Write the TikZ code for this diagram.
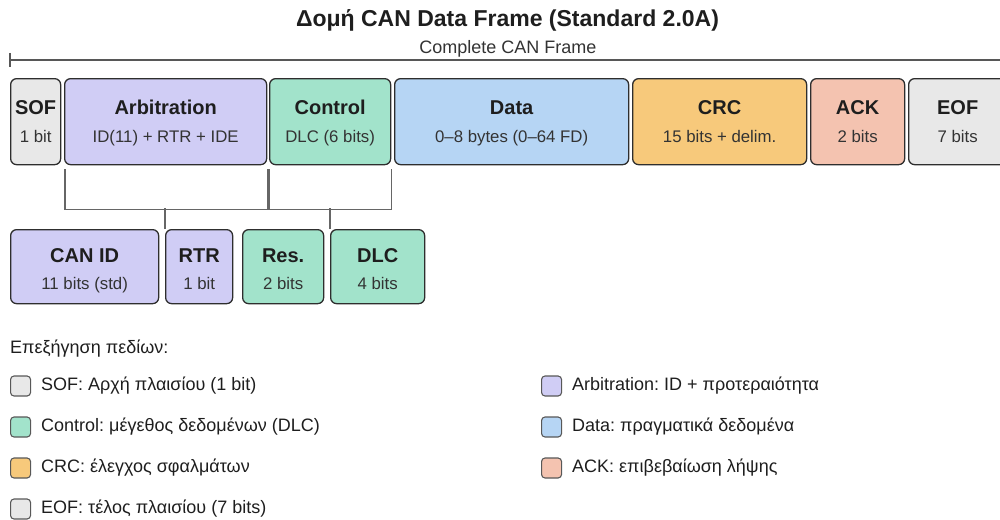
\documentclass[tikz,border=0pt]{standalone}
\usepackage{fontspec}
\setmainfont{Liberation Sans}
\usetikzlibrary{calc}
\frenchspacing
\definecolor{cgrey}{HTML}{E8E8E8}
\definecolor{cpurp}{HTML}{D0CDF5}
\definecolor{cmint}{HTML}{A2E3CB}
\definecolor{cblue}{HTML}{B6D5F4}
\definecolor{corng}{HTML}{F7C97B}
\definecolor{csalm}{HTML}{F4C3B0}
\definecolor{cedge}{HTML}{2E2E2E}
\definecolor{cline}{HTML}{666666}
\definecolor{ctxt}{HTML}{1E1E1E}
\definecolor{csub}{HTML}{333333}
% main field label: title + sub line, gap 28
\newcommand{\fldA}[2]{\rule{0pt}{18pt}{\fontsize{20}{28}\selectfont\bfseries #1}\\{\fontsize{16.8}{28}\selectfont\color{csub}#2}\rule[-4pt]{0pt}{4pt}}
% sub field label: gap 27
\newcommand{\fldB}[2]{\rule{0pt}{23pt}{\fontsize{20}{27}\selectfont\bfseries #1}\\{\fontsize{16.8}{27}\selectfont\color{csub}#2}\rule[-4pt]{0pt}{4pt}}
\tikzset{
  fieldbox/.style={draw=cedge, line width=1.3pt, rounded corners=6pt, anchor=north west,
    align=center, inner sep=0pt, text=ctxt},
  mainbox/.style={fieldbox, minimum height=86pt, font=\fontsize{16.8}{28}\selectfont},
  subbox/.style={fieldbox, minimum height=74pt, font=\fontsize{16.8}{27}\selectfont},
  brk/.style={draw=cline, line width=1.4pt},
  frameline/.style={draw=cline!85!black, line width=1.3pt},
  swatch/.style={draw=cedge!80, line width=1.1pt, rounded corners=3.5pt, minimum width=20pt,
    minimum height=20pt, inner sep=0pt, anchor=west},
  legtext/.style={anchor=west, inner sep=0pt, text=ctxt, font=\fontsize{18}{21}\selectfont},
}
\begin{document}
\begin{tikzpicture}[x=1pt,y=-1pt]
\useasboundingbox (0,0) rectangle (1000,519);
% title
\node[anchor=base, inner sep=0pt, text=ctxt, font=\fontsize{23}{26}\selectfont\bfseries] (title) at (507.5,26.3) {Δομή CAN Data Frame (Standard 2.0A)};
\node[anchor=base, inner sep=0pt, text=csub, font=\fontsize{18}{21}\selectfont] (cframe) at (508,53.3) {Complete CAN Frame};
\coordinate (fl) at (10,60);
\coordinate (fr) at (1012,60);
\draw[frameline] (fl) -- (fr);
\draw[frameline] ($(fl)+(0,-7)$) -- ($(fl)+(0,7)$);
% main fields
\node[mainbox, fill=cgrey, minimum width=50pt] (sof) at (10,78) {\fldA{SOF}{1 bit}};
\node[mainbox, fill=cpurp, minimum width=202pt] (arb) at (64,78) {\fldA{Arbitration}{ID(11) + RTR + IDE}};
\node[mainbox, fill=cmint, minimum width=121pt] (ctl) at (269,78) {\fldA{Control}{DLC (6 bits)}};
\node[mainbox, fill=cblue, minimum width=234pt] (data) at (394,78) {\fldA{Data}{0–8 bytes (0–64 FD)}};
\node[mainbox, fill=corng, minimum width=174pt] (crc) at (632,78) {\fldA{CRC}{15 bits + delim.}};
\node[mainbox, fill=csalm, minimum width=94pt] (ack) at (810,78) {\fldA{ACK}{2 bits}};
\node[mainbox, fill=cgrey, minimum width=98pt] (eof) at (908,78) {\fldA{EOF}{7 bits}};
% sub fields
\node[subbox, fill=cpurp, minimum width=148pt] (canid) at (10,229) {\fldB{CAN ID}{11 bits (std)}};
\node[subbox, fill=cpurp, minimum width=67pt] (rtr) at (165,229) {\fldB{RTR}{1 bit}};
\node[subbox, fill=cmint, minimum width=81pt] (res) at (242,229) {\fldB{Res.}{2 bits}};
\node[subbox, fill=cmint, minimum width=94pt] (dlc) at (330,229) {\fldB{DLC}{4 bits}};
% brackets
\draw[brk] ($(arb.south west)+(1,4)$) |- ($(arb.south east)+(0,44)$) -- ($(arb.south east)+(0,4)$);
\draw[brk] (rtr.north west) -- ++(0,-21);
\draw[brk] ($(ctl.south west)+(0,4)$) |- ($(ctl.south east)+(0,44)$) -- ($(ctl.south east)+(0,4)$);
\draw[brk] (dlc.north west) -- ++(0,-21);
% legend
\node[legtext] (leghead) at (10,349) {Επεξήγηση πεδίων:};
\node[swatch, fill=cgrey] (s1) at (10,386) {};
\node[legtext] (t1) at (41,386) {SOF: Αρχή πλαισίου (1 bit)};
\node[swatch, fill=cmint] (s2) at (10,427) {};
\node[legtext] (t2) at (41,427) {Control: μέγεθος δεδομένων (DLC)};
\node[swatch, fill=corng] (s3) at (10,468) {};
\node[legtext] (t3) at (41,468) {CRC: έλεγχος σφαλμάτων};
\node[swatch, fill=cgrey] (s4) at (10,509) {};
\node[legtext] (t4) at (41,509) {EOF: τέλος πλαισίου (7 bits)};
\node[swatch, fill=cpurp] (s5) at (541,386) {};
\node[legtext] (t5) at (572,386) {Arbitration: ID + προτεραιότητα};
\node[swatch, fill=cblue] (s6) at (541,427) {};
\node[legtext] (t6) at (572,427) {Data: πραγματικά δεδομένα};
\node[swatch, fill=csalm] (s7) at (541,468) {};
\node[legtext] (t7) at (572,468) {ACK: επιβεβαίωση λήψης};
\end{tikzpicture}
\end{document}
